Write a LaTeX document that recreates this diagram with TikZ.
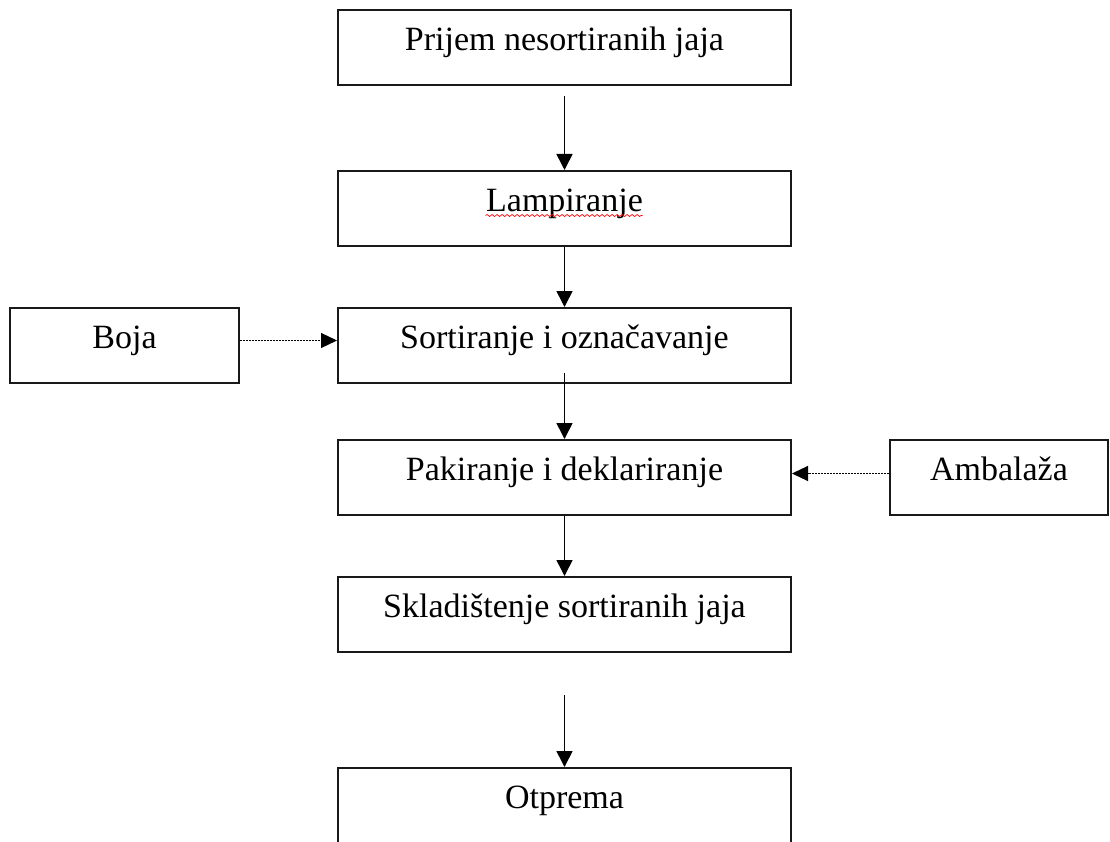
\documentclass[tikz,border=0pt]{standalone}
\usepackage{fontspec}
\setmainfont{Liberation Serif}
\usetikzlibrary{matrix,arrows.meta}
\usetikzlibrary{decorations.pathmorphing}

\tikzset{
  stepbox/.style={draw=black!90, line width=2pt, minimum width=453pt, minimum height=75pt,
    text height=24pt, text depth=19pt, inner sep=0pt, font=\fontsize{34}{40}\selectfont},
  flow/.style={-{Triangle[width=16pt,length=16pt]}, line width=1.6pt},
  feed/.style={-{Triangle[width=15pt,length=16pt]}, line width=1.2pt, dash pattern=on 2pt off 1pt},
  spell/.style={red, line width=0.7pt, decorate, decoration={snake, amplitude=1pt, segment length=5pt}}
}

\begin{document}
\begin{tikzpicture}
  \clip (0,0) rectangle (1110pt,-842pt);
  \matrix (m) [matrix of nodes, row sep=60pt, column sep=97pt, nodes={stepbox},
    matrix anchor=m-1-2.north] at (564.5pt,-9pt)
  {
     & Prijem nesortiranih jaja & \\[24pt]
     & Lampiranje & \\
    |[minimum width=229pt]| Boja & Sortiranje i označavanje & \\[-5pt]
     & Pakiranje i deklariranje & |[minimum width=218pt]| Ambalaža \\
     & Skladištenje sortiranih jaja & \\[54pt]
     & Otprema & \\
  };
  \path[flow]
  (m-1-2) edge[shorten <=10pt] (m-2-2)
  (m-2-2) edge (m-3-2)
  (m-3-2) edge[shorten <=-11pt] (m-4-2)
  (m-4-2) edge (m-5-2)
  (m-5-2) edge[shorten <=42pt] (m-6-2)
  ;
  \path[feed]
  ([yshift=5pt]m-3-1.east) edge ([yshift=5pt]m-3-2.west)
  ([yshift=4pt]m-4-3.west) edge ([yshift=4pt]m-4-2.east)
  ;
  \draw[spell] ([xshift=-79pt,yshift=-7pt]m-2-2.center) -- ([xshift=78pt,yshift=-7pt]m-2-2.center);
\end{tikzpicture}
\end{document}
